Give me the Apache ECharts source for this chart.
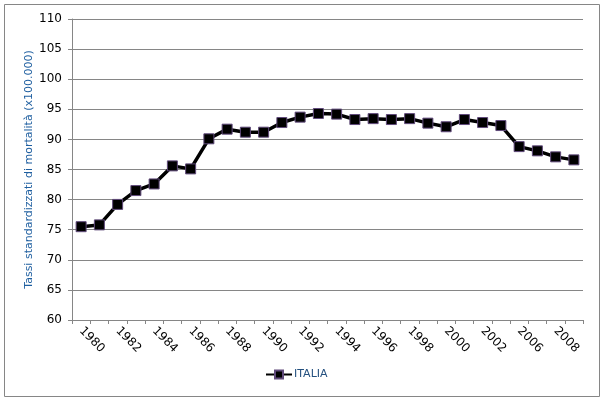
<!DOCTYPE html>
<html><head><meta charset="utf-8">
<script src="https://cdn.jsdelivr.net/npm/echarts@6/dist/echarts.min.js"></script>
<style>html,body{margin:0;padding:0;background:#fff}#c{width:603px;height:399px}</style>
</head><body><div id="c"></div>
<script>
const years = ['1980','1981','1982','1983','1984','1985','1986','1987','1988','1989','1990','1991','1992','1993','1994','1995','1996','1997','1998','1999','2000','2001','2002','2003','2006','2007','2008','2009'];
const italia = [75.5,75.8,79.2,81.5,82.6,85.6,85.1,90.1,91.7,91.2,91.2,92.8,93.7,94.3,94.2,93.3,93.45,93.3,93.45,92.7,92.1,93.3,92.8,92.3,88.8,88.1,87.1,86.6];
const seriesName = 'ITALIA';
const yTitle = 'Tassi standardizzati di mortalità (x100.000)';

const chart = echarts.init(document.getElementById('c'), null, {renderer:'canvas'});
const font = 'DejaVu Sans';
chart.setOption({
  animation:false,
  backgroundColor:'#fff',
  graphic:[{type:'rect',shape:{x:4.5,y:4.5,width:595,height:392},style:{fill:'none',stroke:'#868686',lineWidth:1},z:-1}],
  grid:{left:72,right:20,top:19,bottom:79,containLabel:false},
  legend:{bottom:14,left:260,data:[seriesName],itemWidth:26,itemHeight:10,itemGap:4,
    textStyle:{fontFamily:font,fontSize:11,color:'#24507f',padding:[0,0,0,-3]}},
  xAxis:{type:'category',data:years,boundaryGap:true,
    axisLine:{lineStyle:{color:'#868686',width:1}},
    axisTick:{show:true,interval:0,length:4,lineStyle:{color:'#868686'}},
    axisLabel:{interval:1,rotate:-45,margin:9,fontFamily:font,fontSize:12,color:'#000'},
    splitLine:{show:false}},
  yAxis:{type:'value',min:60,max:110,interval:5,
    name:yTitle,nameLocation:'middle',nameGap:37,nameMoveOverlap:false,
    nameTextStyle:{fontFamily:font,fontSize:11,color:'#1f5fa0'},
    axisLine:{show:true,lineStyle:{color:'#868686'}},
    axisTick:{show:true,length:4,lineStyle:{color:'#868686'}},
    axisLabel:{fontFamily:font,fontSize:12,color:'#000',margin:10},
    splitLine:{lineStyle:{color:'#868686',width:1}}},
  series:[{name:seriesName,type:'line',data:italia,symbol:'rect',symbolSize:10,
    lineStyle:{color:'#000',width:3.5},
    itemStyle:{color:'#000',borderColor:'#604a7b',borderWidth:1}}]
});
</script></body></html>
